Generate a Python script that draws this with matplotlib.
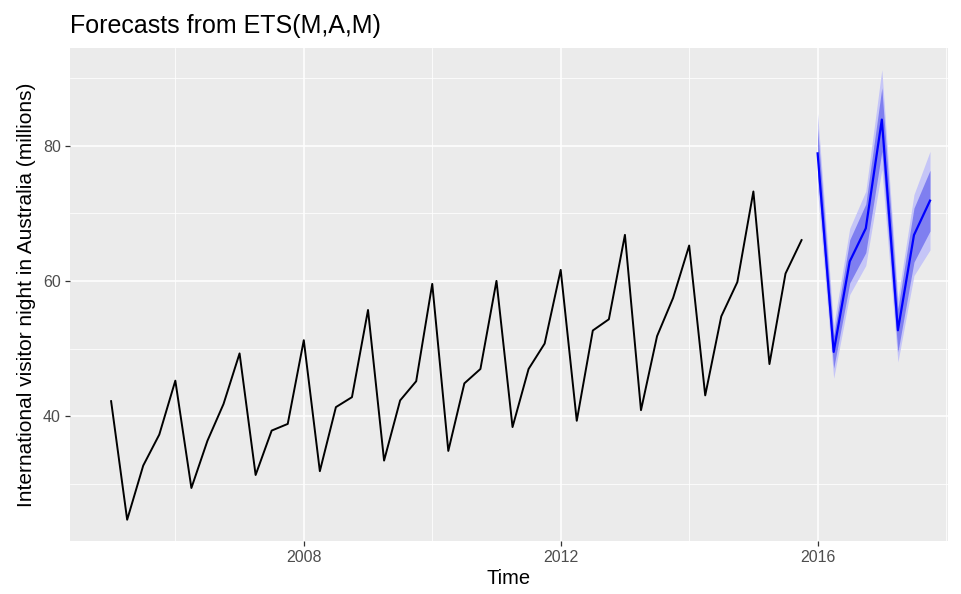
import matplotlib
matplotlib.use("Agg")
import matplotlib.pyplot as plt
import numpy as np

plt.rcParams['font.family'] = ['Liberation Sans', 'DejaVu Sans']

start_year = 2005
obs = [42.20566, 24.64917, 32.66734, 37.25735,
       45.24246, 29.35048, 36.34421, 41.78208,
       49.27660, 31.27540, 37.85063, 38.83704,
       51.23690, 31.83855, 41.32342, 42.79900,
       55.70836, 33.40714, 42.31664, 45.15712,
       59.57608, 34.83733, 44.84168, 46.97125,
       60.01903, 38.37118, 46.97586, 50.73380,
       61.64687, 39.29957, 52.67121, 54.33232,
       66.83436, 40.87119, 51.82854, 57.49190,
       65.25147, 43.06121, 54.76076, 59.83447,
       73.25703, 47.69662, 61.09777, 66.05576]

fc_start = 2016
fc_mean = [78.9, 49.5, 62.9, 67.8, 83.9, 52.7, 66.8, 71.9]
lo80 = [75.6, 47.1, 59.7, 64.2, 79.2, 49.5, 62.8, 67.4]
hi80 = [82.6, 51.9, 66.1, 71.4, 88.6, 55.9, 70.8, 76.4]
lo95 = [73.3, 45.6, 58.0, 62.3, 76.5, 48.0, 60.8, 64.6]
hi95 = [84.8, 53.4, 67.8, 73.3, 91.3, 57.4, 72.8, 79.2]

t_obs = start_year + np.arange(len(obs)) / 4
t_fc = fc_start + np.arange(len(fc_mean)) / 4

fig = plt.figure(figsize=(9.61, 5.94), dpi=100)
W, H = 961, 594
ax = fig.add_axes([70 / W, (H - 541) / H, (948 - 70) / W, (541 - 48) / H])
ax.set_facecolor('#EBEBEB')
for s in ax.spines.values():
    s.set_visible(False)

ax.set_xlim(2004.36, 2018.03)
ax.set_ylim(21.5, 94.5)

ax.set_xticks([2008, 2012, 2016])
ax.set_xticks([2006, 2010, 2014, 2018], minor=True)
ax.set_yticks([40, 60, 80])
ax.set_yticks([30, 50, 70, 90], minor=True)
ax.grid(which='major', color='white', linewidth=1.1)
ax.grid(which='minor', color='white', linewidth=0.55)
ax.set_axisbelow(True)
ax.tick_params(which='major', length=3.5, width=0.9, color='#333333',
               labelcolor='#4D4D4D', labelsize=11.5, pad=3)
ax.tick_params(which='minor', length=0)

ax.fill_between(t_fc, lo95, hi95, color='#C5C5F7', linewidth=0)
ax.fill_between(t_fc, lo80, hi80, color='#7F7FF0', linewidth=0)
ax.plot(t_obs, obs, color='black', linewidth=1.4)
ax.plot(t_fc, fc_mean, color='#0000FF', linewidth=1.6)

ax.set_xlabel('Time', fontsize=14.5, labelpad=3)
ax.set_ylabel('International visitor night in Australia (millions)', fontsize=15, labelpad=5)
ax.set_title('Forecasts from ETS(M,A,M)', fontsize=18, loc='left', pad=11)

fig.savefig('out.png', dpi=100)
